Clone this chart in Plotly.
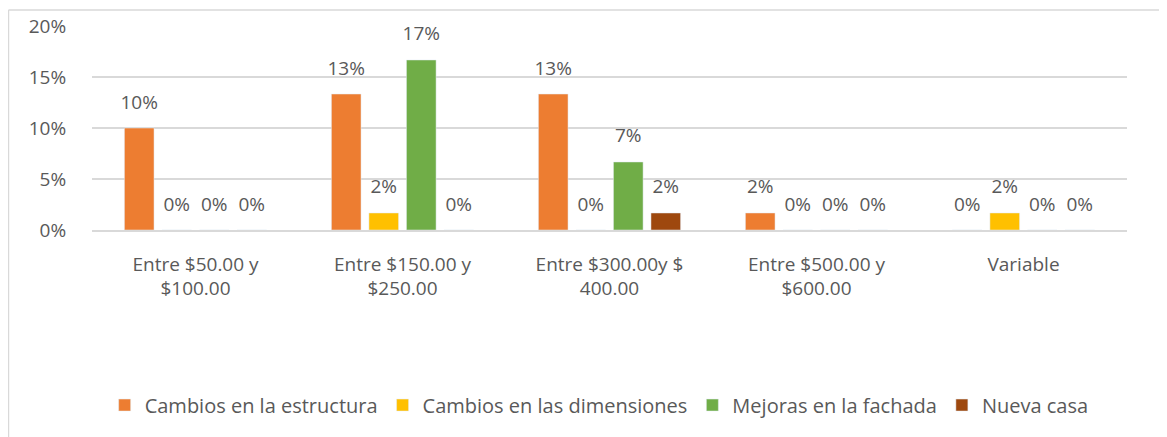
import plotly.graph_objects as go

categories = ["Entre $50.00 y<br>$100.00", "Entre $150.00 y<br>$250.00",
              "Entre $300.00y $<br>400.00", "Entre $500.00 y<br>$600.00", "Variable"]
series_names = ["Cambios en la estructura", "Cambios en las dimensiones",
                "Mejoras en la fachada", "Nueva casa"]
estructura = [0.1000, 0.1333, 0.1333, 0.0167, 0.0]
dimensiones = [0.0, 0.0167, 0.0, 0.0, 0.0167]
fachada = [0.0, 0.1667, 0.0667, 0.0, 0.0]
nueva_casa = [0.0, 0.0, 0.0167, 0.0, 0.0]
colors = ["#ED7D31", "#FFC000", "#70AD47", "#9E480E"]

FONT = "Open Sans"
TXT = "#595959"
FS = 19

fig = go.Figure()
all_vals = [estructura, dimensiones, fachada, nueva_casa]
for name, vals, col in zip(series_names, all_vals, colors):
    fig.add_trace(go.Bar(
        x=categories, y=vals, name=name, marker_color=col,
    ))
for name, vals in zip(series_names, all_vals):
    fig.add_trace(go.Scatter(
        x=categories, y=vals, mode="markers+text", texttemplate="%{y:.0%}",
        textposition="top center", showlegend=False, cliponaxis=False,
        marker=dict(size=22, opacity=0),
        textfont=dict(family=FONT, size=FS, color=TXT), hoverinfo="skip",
    ))

fig.update_layout(
    width=1159, height=429,
    margin=dict(l=84, r=40, t=18, b=207),
    paper_bgcolor="white", plot_bgcolor="white",
    barmode="group", bargap=0.275, bargroupgap=0.21,
    scattermode="group", scattergap=0.275,
    font=dict(family=FONT, size=FS, color=TXT),
    showlegend=True,
    legend=dict(orientation="h", x=0.49, xanchor="center", y=-0.858, yanchor="middle",
                font=dict(family=FONT, size=20, color=TXT), itemwidth=30,
                traceorder="normal"),
    shapes=[
        dict(type="line", xref="paper", yref="paper", x0=-0.0807, x1=1.05, y0=1.078, y1=1.078,
             line=dict(color="#d9d9d9", width=1.5)),
        dict(type="line", xref="paper", yref="paper", x0=-0.0807, x1=-0.0807, y0=1.078, y1=-1.05,
             line=dict(color="#d9d9d9", width=1.5)),
    ],
)
fig.update_yaxes(range=[0, 0.2], dtick=0.05, tickformat=".0%", showgrid=True, automargin=False,
                 gridcolor="#d9d9d9", gridwidth=1.5, zeroline=False, showline=False,
                 ticks="outside", ticklen=21, tickcolor="rgba(0,0,0,0)",
                 tickfont=dict(family=FONT, size=FS, color=TXT))
fig.update_xaxes(showline=True, linecolor="#d9d9d9", linewidth=1.5, showgrid=False, automargin=False,
                 ticks="outside", ticklen=16, tickcolor="rgba(0,0,0,0)",
                 tickfont=dict(family=FONT, size=FS, color=TXT))

fig.write_html("out.html")
